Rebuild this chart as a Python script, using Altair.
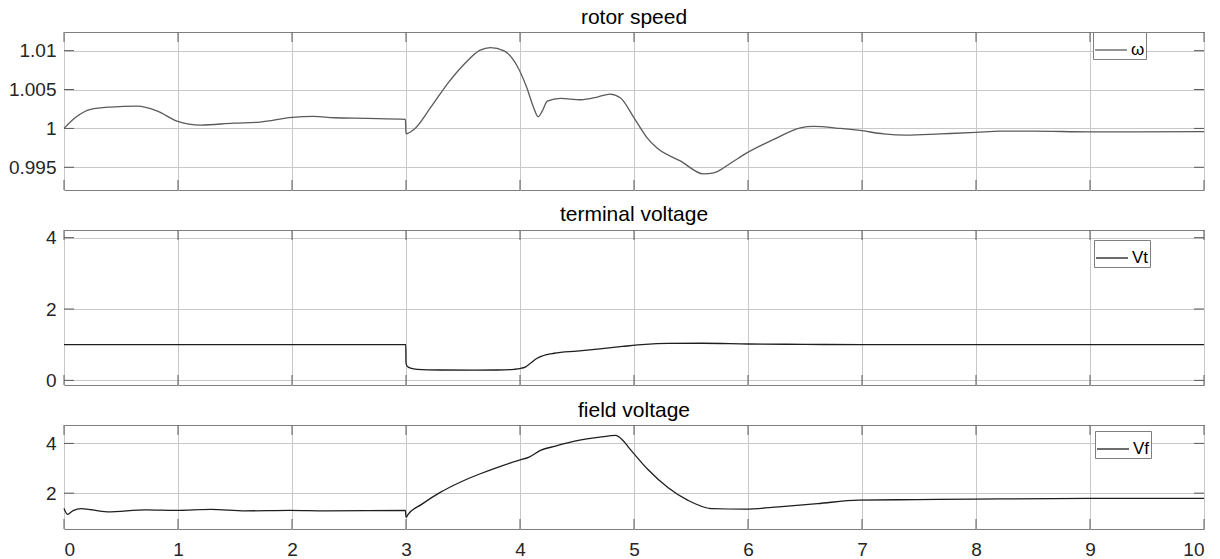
import altair as alt
import pandas as pd

# ---- data ----
t_w = [0, 0.1, 0.234, 0.41, 0.64, 0.82, 0.99, 1.2, 1.49, 1.72, 2.0, 2.19, 2.37, 2.66, 2.995,
       3.0, 3.07, 3.215, 3.36, 3.51, 3.65, 3.74, 3.86, 3.975, 4.06, 4.12, 4.16, 4.195, 4.24,
       4.355, 4.53, 4.68, 4.79, 4.88, 5.0, 5.115, 5.2, 5.41, 5.61, 5.7, 5.85, 5.99, 6.225,
       6.46, 6.575, 6.81, 6.98, 7.19, 7.39, 7.69, 8.0, 8.21, 8.5, 9.0, 9.4, 10]
w = [1.0, 1.0014, 1.00245, 1.00275, 1.00287, 1.00223, 1.00094, 1.00043, 1.00068, 1.00081,
     1.00142, 1.00155, 1.00137, 1.00129, 1.00116, 0.9993, 0.99987, 1.00266, 1.00567, 1.00825,
     1.01006, 1.0104, 1.00997, 1.00803, 1.00523, 1.00266, 1.0015, 1.00223, 1.00352, 1.00387,
     1.00369, 1.00403, 1.00442, 1.00394, 1.00137, 0.99879, 0.9975, 0.99579, 0.99415, 0.99428,
     0.99556, 0.99685, 0.99858, 1.00008, 1.00026, 1.0, 0.99974, 0.9993, 0.99914, 0.9993,
     0.99948, 0.99965, 0.99965, 0.99956, 0.99956, 0.9996]

t_vt = [0, 2.998, 3.0, 3.01, 3.04, 3.1, 3.3, 3.6, 3.8, 3.95, 4.0, 4.05, 4.1, 4.15, 4.2, 4.3,
        4.5, 4.7, 4.9, 5.1, 5.3, 5.6, 6.0, 6.5, 7.0, 8.0, 9.0, 10]
vt = [1.0, 1.0, 0.5, 0.40, 0.34, 0.31, 0.29, 0.285, 0.29, 0.31, 0.33, 0.38, 0.50, 0.62, 0.69,
      0.76, 0.82, 0.88, 0.95, 1.01, 1.035, 1.04, 1.02, 1.01, 1.0, 1.0, 1.0, 1.0]

t_vf = [0, 0.03, 0.08, 0.15, 0.38, 0.72, 0.98, 1.29, 1.59, 1.98, 2.3, 2.995, 3.0, 3.02, 3.14,
        3.30, 3.47, 3.64, 3.81, 3.98, 4.08, 4.18, 4.31, 4.48, 4.70, 4.84, 4.88, 4.98, 5.12,
        5.30, 5.47, 5.68, 5.975, 6.27, 6.61, 6.97, 7.48, 7.98, 8.98, 10]
vf = [1.38, 1.15, 1.30, 1.38, 1.25, 1.33, 1.31, 1.35, 1.29, 1.31, 1.29, 1.31, 1.03, 1.16, 1.56,
      2.03, 2.43, 2.76, 3.05, 3.31, 3.45, 3.72, 3.89, 4.09, 4.25, 4.32, 4.22, 3.69, 2.96,
      2.22, 1.72, 1.38, 1.36, 1.45, 1.58, 1.72, 1.74, 1.76, 1.79, 1.79]

x_ticks = [0, 1, 2, 3, 4, 5, 6, 7, 8, 9, 10]
w_ticks = [0.995, 1.0, 1.005, 1.01]
vt_ticks = [0, 2, 4]
vf_ticks = [2, 4]

titles = ["rotor speed", "terminal voltage", "field voltage"]
labels = ["ω", "Vt", "Vf"]

FONT = "Liberation Sans"
W = 1140
TICK = 10


def panel(t, v, ydomain, yticks, title, label, color, height, show_x, legend_x, legend_y):
    df = pd.DataFrame({"t": t, "v": v, "s": label})
    xscale = alt.Scale(domain=[0, 10], nice=False, zero=False)
    yscale = alt.Scale(domain=ydomain, nice=False, zero=False)
    xax = alt.Axis(values=x_ticks, labels=show_x, grid=True, ticks=False, tickSize=0,
                   domain=False, title=None, format="d", labelPadding=11)
    yax = alt.Axis(values=yticks, grid=True, ticks=False, tickSize=0, domain=False,
                   title=None, format="~g", labelPadding=8)
    line = alt.Chart(df).mark_line(strokeWidth=1.3, interpolate="monotone").encode(
        x=alt.X("t:Q", scale=xscale, axis=xax),
        y=alt.Y("v:Q", scale=yscale, axis=yax),
        color=alt.Color("s:N", scale=alt.Scale(domain=[label], range=[color]),
                        legend=alt.Legend(orient="none", legendX=legend_x, legendY=legend_y,
                                          title=None)),
    )
    xt = pd.DataFrame({"t": x_ticks})
    yt = pd.DataFrame({"v": yticks})
    tick_style = dict(color="#5a5a5a", strokeWidth=1)
    xtop = alt.Chart(xt).mark_rule(**tick_style).encode(
        x=alt.X("t:Q", scale=xscale, axis=xax), y=alt.value(0), y2=alt.value(TICK))
    xbot = alt.Chart(xt).mark_rule(**tick_style).encode(
        x=alt.X("t:Q", scale=xscale, axis=xax), y=alt.value(height - TICK), y2=alt.value(height))
    yleft = alt.Chart(yt).mark_rule(**tick_style).encode(
        y=alt.Y("v:Q", scale=yscale, axis=yax), x=alt.value(0), x2=alt.value(TICK))
    yright = alt.Chart(yt).mark_rule(**tick_style).encode(
        y=alt.Y("v:Q", scale=yscale, axis=yax), x=alt.value(W - TICK), x2=alt.value(W))
    return alt.layer(line, xtop, xbot, yleft, yright).properties(
        width=W, height=height,
        title=alt.TitleParams(title, fontSize=21, font=FONT, fontWeight="normal",
                              anchor="middle", baseline="alphabetic", offset=-13.7,
                              color="black"),
    )


p1 = panel(t_w, w, [0.99208, 1.0124], w_ticks, titles[0], labels[0], "#5a5a5a", 158, False, 1029, 0)
p2 = panel(t_vt, vt, [-0.13, 4.215], vt_ticks, titles[1], labels[1], "#1e1e1e", 155, False, 1030, 10)
p3 = panel(t_vf, vf, [0.56, 4.74], vf_ticks, titles[2], labels[2], "#1e1e1e", 104, True, 1031, 6)

chart = alt.vconcat(p1, p2, p3, spacing=40, bounds="flush").resolve_scale(
    y="independent", color="independent"
).resolve_legend(color="independent").configure(
    padding={"left": 7, "top": 6, "right": 5, "bottom": 2},
    background="white",
).configure_view(
    stroke="#7f7f7f", strokeWidth=1
).configure_axis(
    labelFont=FONT, labelFontSize=19, labelColor="#262626",
    gridColor="#c8c8c8", gridWidth=1,
).configure_legend(
    symbolType="stroke", symbolSize=1024, symbolStrokeWidth=1.3,
    labelFont=FONT, labelFontSize=17, labelColor="black", labelOffset=3,
    strokeColor="#7f7f7f", fillColor="white", padding=1, cornerRadius=0,
)

chart.save("out.html", embed_options={"renderer": "svg", "actions": False})
